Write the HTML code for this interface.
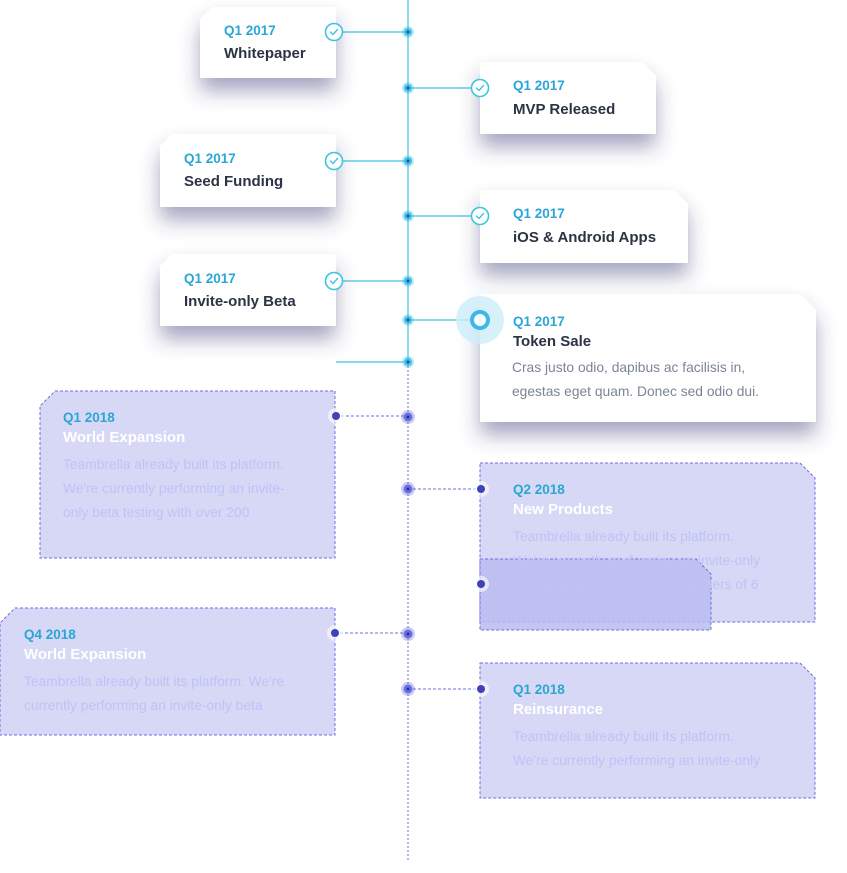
<!DOCTYPE html>
<html><head><meta charset="utf-8"><style>
html,body{margin:0;padding:0;background:#fff;width:847px;height:873px;overflow:hidden}
svg{display:block}
text{font-family:"Liberation Sans",sans-serif}
.q{fill:#2aa6d6;font-weight:bold;font-size:13.5px}
.t{fill:#2b3344;font-weight:bold;font-size:15px}
.tw{fill:#fff;font-weight:bold;font-size:15px}
.b{fill:#7b8595;font-size:13.8px}
.bp{fill:#bfc2f6;font-size:13.8px}
</style></head><body>
<svg width="847" height="873" viewBox="0 0 847 873">
<defs>
<filter id="sh" x="-30%" y="-30%" width="160%" height="200%"><feDropShadow dx="0" dy="13" stdDeviation="10" flood-color="#3a3d78" flood-opacity="0.45"/></filter>
</defs>
<!-- spine -->
<line x1="408" y1="0" x2="408" y2="362" stroke="#3cc4e2" stroke-width="1.2"/>
<line x1="408" y1="362" x2="408" y2="862" stroke="#6b6fe0" stroke-width="1" stroke-dasharray="2,2"/>
<g stroke="#3cc4e2" stroke-width="1.2">
<line x1="334" y1="32" x2="408" y2="32"/><line x1="408" y1="88" x2="480" y2="88"/>
<line x1="334" y1="161" x2="408" y2="161"/><line x1="408" y1="216" x2="480" y2="216"/>
<line x1="334" y1="281" x2="408" y2="281"/><line x1="408" y1="320" x2="480" y2="320"/>
<line x1="336" y1="362" x2="408" y2="362"/>
</g>
<g stroke="#6b6fe0" stroke-width="1" stroke-dasharray="3,2">
<line x1="336" y1="416" x2="408" y2="416"/><line x1="408" y1="489" x2="481" y2="489"/>
<line x1="335" y1="633" x2="408" y2="633"/><line x1="408" y1="689" x2="481" y2="689"/>
</g>
<g fill="#fff" filter="url(#sh)">
<polygon points="212,7 336,7 336,78 200,78 200,19"/>
<polygon points="480,62 642,62 656,76 656,134 480,134"/>
<polygon points="172,134 336,134 336,207 160,207 160,146"/>
<polygon points="480,190 674,190 688,204 688,263 480,263"/>
<polygon points="172,254 336,254 336,326 160,326 160,266"/>
<polygon points="480,294 800,294 816,310 816,422 480,422"/>
</g>
<g fill="#d6d8f5" stroke="#6d6fe0" stroke-width="1" stroke-dasharray="3,2">
<polygon points="55,391 335,391 335,558 40,558 40,406"/>
<polygon points="480,463 800,463 815,478 815,622 480,622"/>
<polygon points="15,608 335,608 335,735 0,735 0,623"/>
<polygon points="480,663 800,663 815,678 815,798 480,798"/>
</g>
<polygon points="480,559 696,559 711,574 711,630 480,630" fill="#b9bcee" fill-opacity="0.85" stroke="#6d6fe0" stroke-dasharray="3,2"/>
<g>
<g fill="#3cc4e2" opacity="0.35"><circle cx="408" cy="32" r="6"/><circle cx="408" cy="88" r="6"/><circle cx="408" cy="161" r="6"/><circle cx="408" cy="216" r="6"/><circle cx="408" cy="281" r="6"/><circle cx="408" cy="320" r="6"/><circle cx="408" cy="362" r="6"/></g>
<g fill="#3cc4e2"><circle cx="408" cy="32" r="4"/><circle cx="408" cy="88" r="4"/><circle cx="408" cy="161" r="4"/><circle cx="408" cy="216" r="4"/><circle cx="408" cy="281" r="4"/><circle cx="408" cy="320" r="4"/><circle cx="408" cy="362" r="4"/></g>
<g fill="#3a3fb0"><circle cx="408" cy="32" r="1.5"/><circle cx="408" cy="88" r="1.5"/><circle cx="408" cy="161" r="1.5"/><circle cx="408" cy="216" r="1.5"/><circle cx="408" cy="281" r="1.5"/><circle cx="408" cy="320" r="1.5"/><circle cx="408" cy="362" r="1.5"/></g>
<g fill="#6b6fe0" opacity="0.35"><circle cx="408" cy="417" r="7"/><circle cx="408" cy="489" r="7"/><circle cx="408" cy="634" r="7"/><circle cx="408" cy="689" r="7"/></g>
<g fill="#6b6fe0"><circle cx="408" cy="417" r="4.5"/><circle cx="408" cy="489" r="4.5"/><circle cx="408" cy="634" r="4.5"/><circle cx="408" cy="689" r="4.5"/></g>
<g fill="#2c2f99"><circle cx="408" cy="417" r="1.5"/><circle cx="408" cy="489" r="1.5"/><circle cx="408" cy="634" r="1.5"/><circle cx="408" cy="689" r="1.5"/></g>
</g>
<g fill="#fff" stroke="#3cc4e2" stroke-width="1.6">
<circle cx="334" cy="32" r="8.5"/><circle cx="480" cy="88" r="8.5"/><circle cx="334" cy="161" r="8.5"/><circle cx="480" cy="216" r="8.5"/><circle cx="334" cy="281" r="8.5"/>
</g>
<g fill="none" stroke="#3cc4e2" stroke-width="1.4" stroke-linecap="round">
<polyline points="330.5,32 333,34.5 337.5,29.5"/><polyline points="476.5,88 479,90.5 483.5,85.5"/><polyline points="330.5,161 333,163.5 337.5,158.5"/><polyline points="476.5,216 479,218.5 483.5,213.5"/><polyline points="330.5,281 333,283.5 337.5,278.5"/>
</g>
<circle cx="480" cy="320" r="24" fill="#cdeefa" opacity="0.8"/>
<circle cx="480" cy="320" r="8" fill="#fff" stroke="#3cb8ea" stroke-width="4"/>
<g fill="#fff" opacity="0.6"><circle cx="336" cy="416" r="8"/><circle cx="481" cy="489" r="8"/><circle cx="481" cy="584" r="8"/><circle cx="335" cy="633" r="8"/><circle cx="481" cy="689" r="8"/></g>
<g fill="#3f43b8"><circle cx="336" cy="416" r="4"/><circle cx="481" cy="489" r="4"/><circle cx="481" cy="584" r="4"/><circle cx="335" cy="633" r="4"/><circle cx="481" cy="689" r="4"/></g>
<text class="q" x="224" y="35">Q1 2017</text><text class="t" x="224" y="58">Whitepaper</text>
<text class="q" x="513" y="90">Q1 2017</text><text class="t" x="513" y="114">MVP Released</text>
<text class="q" x="184" y="163">Q1 2017</text><text class="t" x="184" y="186">Seed Funding</text>
<text class="q" x="513" y="218">Q1 2017</text><text class="t" x="513" y="242">iOS &amp; Android Apps</text>
<text class="q" x="184" y="283">Q1 2017</text><text class="t" x="184" y="306">Invite-only Beta</text>
<text class="q" x="513" y="326">Q1 2017</text><text class="t" x="513" y="346">Token Sale</text>
<text class="b" x="512" y="372">Cras justo odio, dapibus ac facilisis in,</text>
<text class="b" x="512" y="396">egestas eget quam. Donec sed odio dui.</text>

<text class="q" x="63" y="422">Q1 2018</text><text class="tw" x="63" y="442">World Expansion</text>
<text class="bp" x="63" y="469">Teambrella already built its platform.</text>
<text class="bp" x="63" y="493">We're currently performing an invite-</text>
<text class="bp" x="63" y="517">only beta testing with over 200</text>

<text class="q" x="513" y="494">Q2 2018</text><text class="tw" x="513" y="514">New Products</text>
<text class="bp" x="513" y="541">Teambrella already built its platform.</text>
<text class="bp" x="513" y="565">We're currently performing an invite-only</text>
<text class="bp" x="513" y="589">beta testing with over 200 members of 6</text>

<text class="q" x="24" y="639">Q4 2018</text><text class="tw" x="24" y="659">World Expansion</text>
<text class="bp" x="24" y="686">Teambrella already built its platform. We're</text>
<text class="bp" x="24" y="710">currently performing an invite-only beta</text>

<text class="q" x="513" y="694">Q1 2018</text><text class="tw" x="513" y="714">Reinsurance</text>
<text class="bp" x="513" y="741">Teambrella already built its platform.</text>
<text class="bp" x="513" y="765">We're currently performing an invite-only</text>
</svg>
</body></html>
